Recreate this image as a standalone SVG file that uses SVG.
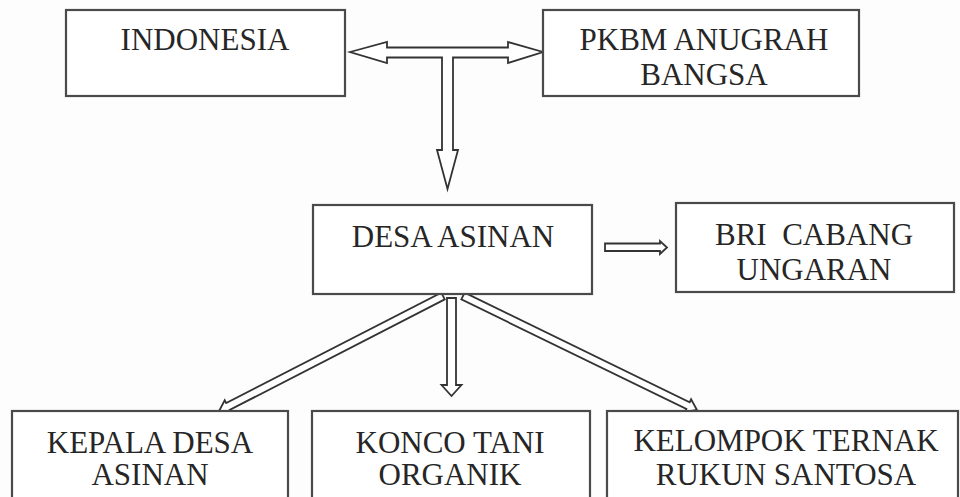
<svg xmlns="http://www.w3.org/2000/svg" width="960" height="497" viewBox="0 0 960 497">
<style>
.box{fill:#ffffff;stroke:#4a4a4a;stroke-width:2.2}
.t{font-family:'Liberation Serif','DejaVu Serif',serif;font-size:31px;fill:#262626;text-anchor:middle}
.arr{fill:#ffffff;stroke:#333333;stroke-width:1.8;stroke-linejoin:miter}
</style>
<rect width="960" height="497" fill="#fdfdfd"/>
<g id="connectors">
<polygon class="arr" points="350,52 387,42 387,47.5 508,47.5 508,42 543,52 508,63 508,57.5 453,57.5 453,150 458,150 447.5,189 437,150 442,150 442,57.5 387,57.5 387,63"/>
<polygon class="arr" points="605,243.5 660,243.5 660,241 667,247.5 660,254 660,251 605,251"/>
<g transform="translate(443,296) rotate(152.8)"><polygon class="arr" points="0,-3.8 241.8,-3.8 241.8,-7 251.8,0 241.8,7 241.8,3.8 0,3.8"/></g>
<g transform="translate(451.5,298) rotate(90)"><polygon class="arr" points="0,-4.5 87,-4.5 87,-10 98,0 87,10 87,4.5 0,4.5"/></g>
<g transform="translate(463,296) rotate(25.97)"><polygon class="arr" points="0,-3.8 250.3,-3.8 250.3,-7 260.3,0 250.3,7 250.3,3.8 0,3.8"/></g>
</g>
<g id="indonesia"><rect class="box" x="66" y="10" width="279" height="86"/><text class="t" font-family="Liberation Serif, serif" x="205" y="50">INDONESIA</text></g>
<g id="pkbm"><rect class="box" x="543" y="10" width="316" height="86"/><text class="t" font-family="Liberation Serif, serif" x="704" y="50">PKBM ANUGRAH</text><text class="t" font-family="Liberation Serif, serif" x="704" y="85">BANGSA</text></g>
<g id="desa"><rect class="box" x="313" y="205" width="279" height="89"/><text class="t" font-family="Liberation Serif, serif" x="453" y="247">DESA ASINAN</text></g>
<g id="bri"><rect class="box" x="676" y="203" width="278" height="89"/><text class="t" font-family="Liberation Serif, serif" x="814" y="245" xml:space="preserve">BRI  CABANG</text><text class="t" font-family="Liberation Serif, serif" x="814" y="280">UNGARAN</text></g>
<g id="kepala"><rect class="box" x="12" y="411" width="276" height="100"/><text class="t" font-family="Liberation Serif, serif" x="150" y="453">KEPALA DESA</text><text class="t" font-family="Liberation Serif, serif" x="150" y="485">ASINAN</text></g>
<g id="konco"><rect class="box" x="312" y="411" width="278" height="100"/><text class="t" font-family="Liberation Serif, serif" x="450" y="453">KONCO TANI</text><text class="t" font-family="Liberation Serif, serif" x="450" y="485">ORGANIK</text></g>
<g id="kelompok"><rect class="box" x="607" y="411" width="351" height="100"/><text class="t" font-family="Liberation Serif, serif" x="786" y="451">KELOMPOK TERNAK</text><text class="t" font-family="Liberation Serif, serif" x="786" y="485">RUKUN SANTOSA</text></g>
</svg>
